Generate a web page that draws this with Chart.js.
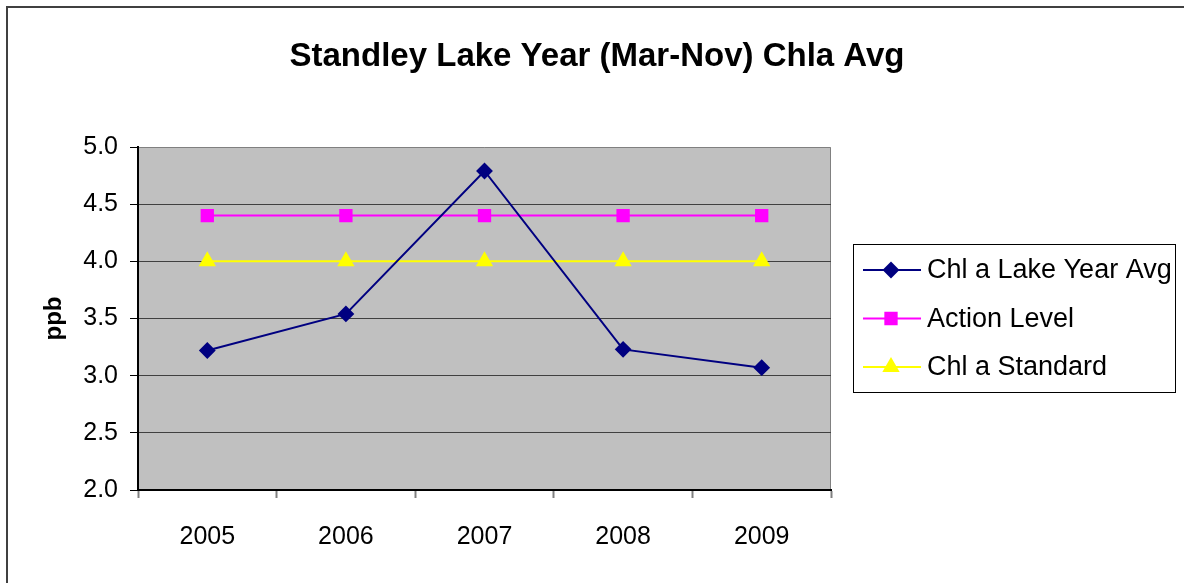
<!DOCTYPE html>
<html>
<head>
<meta charset="utf-8">
<script src="https://cdn.jsdelivr.net/npm/chart.js@4/dist/chart.umd.min.js"></script>
<style>
  html, body { margin: 0; padding: 0; background: #fff; }
  #wrap { width: 1184px; height: 583px; }
</style>
</head>
<body>
<div id="wrap"><canvas id="lakeChart" width="1184" height="583"></canvas></div>
<script>
// data
const years = ["2005", "2006", "2007", "2008", "2009"];
const chlLakeAvg = [3.22, 3.54, 4.79, 3.23, 3.07];
const actionLevel = [4.4, 4.4, 4.4, 4.4, 4.4];
const chlStandard = [4.0, 4.0, 4.0, 4.0, 4.0];
const yMin = 2.0, yMax = 5.0, yStep = 0.5;
const chartTitle = "Standley Lake Year (Mar-Nov) Chla Avg";

const FONT = "'Liberation Sans', Arial, sans-serif";

// grey plot area + outer frame
const bgPlugin = {
    id: "bgPlugin",
    beforeDraw(chart) {
        const { ctx, chartArea: a } = chart;
        ctx.save();
        ctx.fillStyle = "#ffffff";
        ctx.fillRect(0, 0, chart.width, chart.height);
        ctx.strokeStyle = "#404040";
        ctx.lineWidth = 2;
        ctx.strokeRect(7, 7, chart.width + 10, chart.height + 10);
        ctx.fillStyle = "#c0c0c0";
        ctx.fillRect(a.left, a.top, a.right - a.left, a.bottom - a.top);
        ctx.strokeStyle = "#808080";
        ctx.lineWidth = 1;
        ctx.beginPath();
        ctx.moveTo(a.left, a.top + 0.5);
        ctx.lineTo(a.right - 0.5, a.top + 0.5);
        ctx.lineTo(a.right - 0.5, a.bottom);
        ctx.stroke();
        ctx.restore();
    }
};

// title centred on the whole picture, boxed legend on the right
const legendBox = {
    id: "legendBox",
    afterDraw(chart) {
        const ctx = chart.ctx;
        ctx.save();
        ctx.fillStyle = "#000";
        ctx.font = "bold 33px " + FONT;
        ctx.textAlign = "center";
        ctx.textBaseline = "alphabetic";
        ctx.fillText(chartTitle, 597, 66);

        const box = { x: 853.5, y: 244.5, w: 322, h: 148 };
        ctx.textAlign = "left";
        ctx.strokeStyle = "#000000";
        ctx.lineWidth = 1;
        ctx.strokeRect(box.x, box.y, box.w, box.h);
        ctx.font = "27px " + FONT;
        ctx.textBaseline = "middle";
        chart.data.datasets.forEach(function (ds, i) {
            const y = 270 + i * 48.5;
            ctx.strokeStyle = ds.borderColor;
            ctx.lineWidth = 2;
            ctx.beginPath();
            ctx.moveTo(863, y);
            ctx.lineTo(921, y);
            ctx.stroke();
            ctx.fillStyle = ds.pointBackgroundColor;
            ctx.strokeStyle = ds.pointBackgroundColor;
            Chart.helpers.drawPoint(ctx, {
                pointStyle: ds.pointStyle, radius: ds.pointRadius, rotation: 0, borderWidth: 1
            }, 891, y);
            ctx.fillStyle = "#000";
            ctx.fillText(ds.label, 927, y + 1);
        });
        ctx.restore();
    }
};

new Chart(document.getElementById("lakeChart").getContext("2d"), {
    type: "line",
    data: {
        labels: years,
        datasets: [
            {
                label: "Chl a Lake Year Avg",
                data: chlLakeAvg,
                borderColor: "#000080",
                pointBackgroundColor: "#000080",
                pointBorderColor: "#000080",
                pointStyle: "rectRot",
                pointRadius: 7,
                borderWidth: 2
            },
            {
                label: "Action Level",
                data: actionLevel,
                borderColor: "#ff00ff",
                pointBackgroundColor: "#ff00ff",
                pointBorderColor: "#ff00ff",
                pointStyle: "rect",
                pointRadius: 8,
                borderWidth: 2
            },
            {
                label: "Chl a Standard",
                data: chlStandard,
                borderColor: "#ffff00",
                pointBackgroundColor: "#ffff00",
                pointBorderColor: "#ffff00",
                pointStyle: "triangle",
                pointRadius: 8,
                borderWidth: 2
            }
        ]
    },
    options: {
        responsive: false,
        animation: false,
        layout: { padding: { left: 0, right: 353, top: 147, bottom: 0 } },
        plugins: {
            legend: { display: false },
            tooltip: { enabled: false },
            title: { display: false }
        },
        scales: {
            x: {
                offset: true,
                afterFit(scale) { scale.height = 93; },
                grid: {
                    offset: true,
                    drawOnChartArea: false,
                    drawTicks: true,
                    tickLength: 8,
                    tickColor: "#808080",
                    tickWidth: 2
                },
                border: { color: "#000", width: 2 },
                ticks: {
                    color: "#000",
                    font: { family: FONT, size: 25 },
                    padding: 24
                }
            },
            y: {
                min: yMin,
                max: yMax,
                afterFit(scale) { scale.width = 138; },
                title: {
                    display: true,
                    text: "ppb",
                    color: "#000",
                    font: { family: FONT, size: 24, weight: "bold" },
                    padding: { top: 40, bottom: 0 }
                },
                grid: {
                    color: function (c) { return c.tick && c.tick.value === yMax ? "rgba(0,0,0,0)" : "#404040"; },
                    lineWidth: 1,
                    tickLength: 8,
                    tickColor: "#000"
                },
                border: { color: "#000", width: 2 },
                ticks: {
                    stepSize: yStep,
                    color: "#000",
                    font: { family: FONT, size: 25 },
                    padding: 12,
                    callback: function (v) { return Number(v).toFixed(1); }
                }
            }
        }
    },
    plugins: [bgPlugin, legendBox]
});
</script>
</body>
</html>
